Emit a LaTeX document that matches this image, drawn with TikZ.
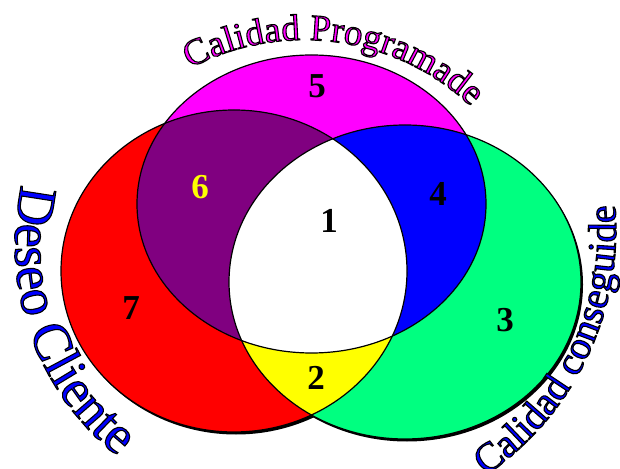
\documentclass[tikz,border=0pt]{standalone}
\usepackage{fontspec}
\setmainfont{Liberation Serif}
\usetikzlibrary{decorations.text}
\definecolor{cmag}{RGB}{255,0,255}
\definecolor{cred}{RGB}{255,0,0}
\definecolor{cgreen}{RGB}{0,255,128}
\definecolor{cpurple}{RGB}{128,0,128}
\definecolor{cblue}{RGB}{0,0,255}
\definecolor{cyellow}{RGB}{255,255,0}
\newcommand{\elM}{(311.5,264) ellipse [x radius=174.5pt, y radius=149pt]}
\newcommand{\elR}{(234,197) ellipse [x radius=173pt, y radius=161pt]}
\newcommand{\elG}{(405,186) ellipse [x radius=176pt, y radius=157pt]}
% outlined text along a path: #1 path, #2 text, #3 colour name, #4 rgb fill ops, #5 size
\newcommand{\otext}[5]{%
  \path[decorate, decoration={text along path, text color=#3,
    text={|\fontsize{#5}{#5}\selectfont\special{pdf:code #4 rg 0 0 0 RG 2 Tr 1.1 w}|#2}}] #1;}
\tikzset{
  num/.style={font=\bfseries\fontsize{35}{35}\selectfont, inner sep=0pt},
  outline/.style={draw=black, line width=1.2pt}
}
\begin{document}
\begin{tikzpicture}[x=1pt,y=1pt]
\useasboundingbox (0,0) rectangle (620,468);
\fill[white] (0,0) rectangle (620,468);
% shadows
\begin{scope}[shift={(2pt,-2.5pt)}]
  \fill[black] \elR; \fill[black] \elG; \fill[black] \elM;
\end{scope}
% base fills
\fill[cmag] \elM;
\fill[cred] \elR;
\fill[cgreen] \elG;
\begin{scope}\clip \elM; \fill[cpurple] \elR; \end{scope}
\begin{scope}\clip \elM; \fill[cblue] \elG; \end{scope}
\begin{scope}\clip \elR; \fill[cyellow] \elG; \end{scope}
\begin{scope}\clip \elM; \clip \elR; \fill[white] \elG; \end{scope}
% outlines
\draw[outline] \elM;
\draw[outline] \elR;
\draw[outline] \elG;
% numbers
\node[num] (n1) at (329,247) {1};
\node[num] (n2) at (316,90) {2};
\node[num] (n3) at (505,148) {3};
\node[num] (n4) at (438,274) {4};
\node[num] (n5) at (317,382) {5};
\node[num, text=cyellow] (n6) at (200,281) {6};
\node[num] (n7) at (131,160) {7};
% curved labels
\otext{([shift={(118:243pt)}]304,185) arc[start angle=118, end angle=40, radius=243pt]}{Calidad Programade}{cmag}{1 0 1}{37}
\otext{([shift={(167:268pt)}]283,223) arc[start angle=167, end angle=245, radius=268pt]}{Deseo Cliente}{cblue}{0 0 1}{54}
\otext{([shift={(-56:296pt)}]320,238) arc[start angle=-56, end angle=10, radius=296pt]}{Calidad conseguide}{cblue}{0 0 1}{40}
\end{tikzpicture}
\end{document}
